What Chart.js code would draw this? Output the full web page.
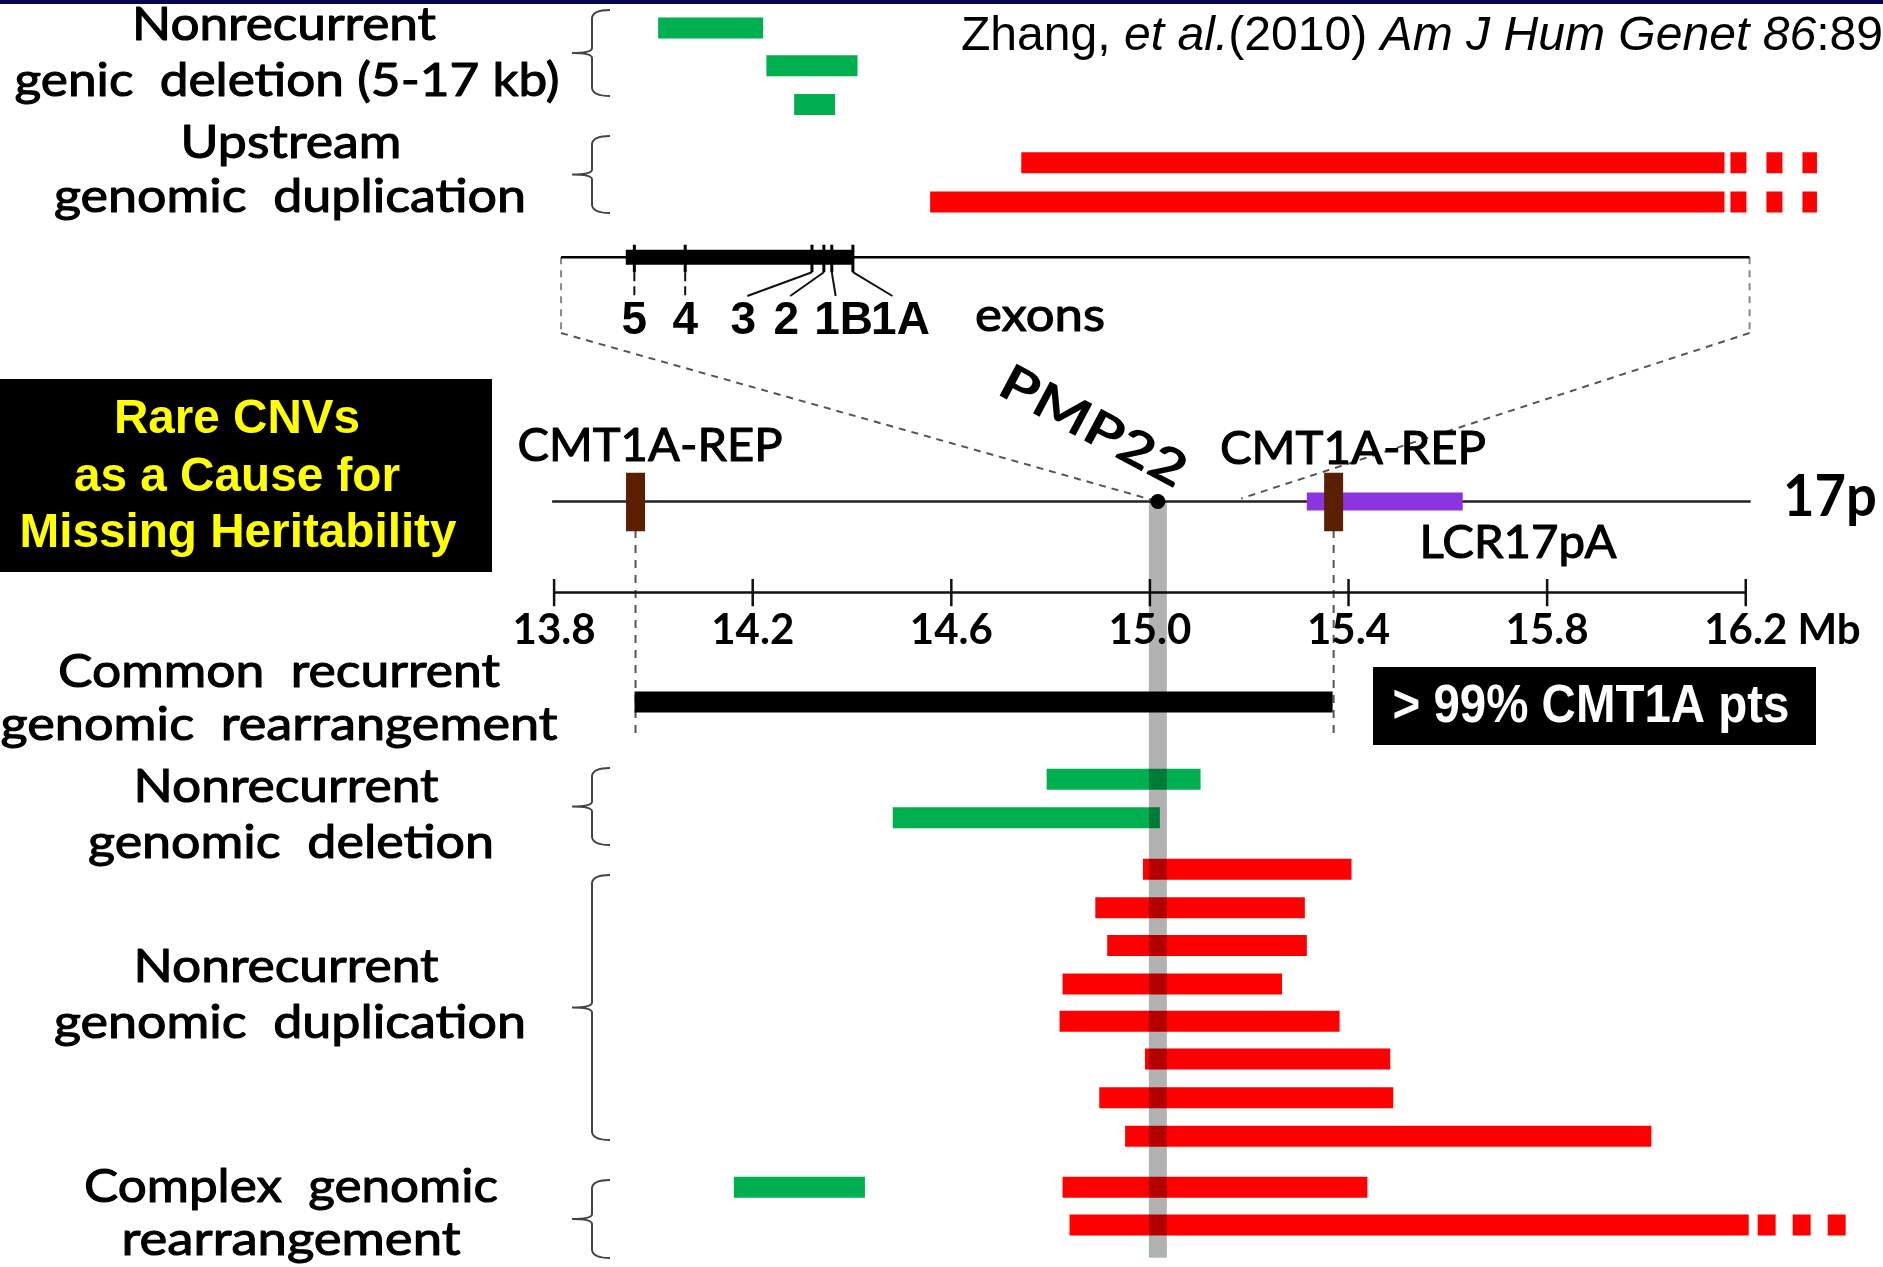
<!DOCTYPE html>
<html>
<head>
<meta charset="utf-8">
<script src="https://cdn.jsdelivr.net/npm/chart.js@4.4.1/dist/chart.umd.min.js"></script>
<style>
  html, body { margin: 0; padding: 0; background: #fff; overflow: hidden; }
  canvas { display: block; }
</style>
</head>
<body>
<canvas id="c" width="1883" height="1267"></canvas>
<script>
// ==================== DATA ====================
// Genomic axis (Mb) of 17p12
const MB_TICKS = [13.8, 14.2, 14.6, 15.0, 15.4, 15.8, 16.2];
const PMP22_MB = 15.016;
const REP_MB = [13.964, 15.370];          // CMT1A-REP proximal / distal
const LCR17PA_MB = [15.316, 15.630];
const COMMON_MB = [13.962, 15.368];       // common 1.4 Mb CMT1A duplication
const ZOOM_MB = [15.016, 15.184];         // region blown up in the upper panel

// Nonrecurrent genomic deletions (Mb)
const DEL_START = [14.792, 14.482];
const DEL_END = [15.102, 15.020];
const DEL_LANE = [20.23, 21.24];

// Nonrecurrent genomic duplications (Mb)
const DUP_START = [14.986, 14.890, 14.914, 14.824, 14.818, 14.990, 14.898, 14.950];
const DUP_END = [15.406, 15.312, 15.316, 15.266, 15.382, 15.484, 15.490, 16.010];
const DUP_LANE = [22.59, 23.60, 24.59, 25.60, 26.58, 27.57, 28.58, 29.59];

// Complex genomic rearrangements (Mb)
const CX_DEL_START = [14.162];
const CX_DEL_END = [14.426];
const CX_DEL_LANE = [30.93];
const CX_DUP_START = [14.824, 14.838];
const CX_DUP_END = [15.438, 16.206];
const CX_DUP_LANE = [30.93, 31.92];
const CX_DUP_MORE = [null, 16.412];       // dotted continuation

// Upper panel, in kb along the magnified window
const WINDOW_KB = [0, 180];
const GENE_KB = [9.8, 44.3];
const EXON_KB = [11.1, 18.8, 38.0, 39.8, 41.0, 44.2];
const EXON_NAMES = ['5', '4', '3', '2', '1B', '1A'];
const EXON_LABEL_KB = [11.1, 18.8, 27.6, 34.1, 42.8, 51.4];

const GENIC_DEL_START = [14.7, 31.1, 35.3];
const GENIC_DEL_END = [30.6, 44.9, 41.5];
const GENIC_DEL_LANE = [0.54, 1.53, 2.54];

const UP_DUP_START = [69.7, 55.9];
const UP_DUP_END = [176.2, 176.2];
const UP_DUP_LANE = [4.07, 5.10];
const UP_DUP_MORE = [190.2, 190.2];

const GROUPS = [
    ['Nonrecurrent', 'genic  deletion (5-17 kb)'],
    ['Upstream', 'genomic  duplication'],
    ['Common  recurrent', 'genomic  rearrangement'],
    ['Nonrecurrent', 'genomic  deletion'],
    ['Nonrecurrent', 'genomic  duplication'],
    ['Complex  genomic', 'rearrangement'],
];

// ==================== LAYOUT ====================
const W = 1883, H = 1267;
const LANE_PX = 38.6;
const PX_PER_MB = 500.5, MB_AT_PX = 551;  // 13.8 Mb sits at x=551
const PX_PER_KB = 6.656, KB_AT_PX = 558;  // window start sits at x=558

const GREEN = '#00b050';
const RED = '#ff0000';
const LANE = {
    gene: 6.55, chrom: 12.95, repTop: 12.23, repBot: 13.70,
    axis: 15.34, tickTop: 14.98, tickBot: 15.70, common: 18.21,
    exonTop: 6.22, exonBot: 6.94, bandEnd: 32.78,
};

function seg(xAxisID, x0, x1, y0, y1, color, width, extra) {
    return Object.assign({
        type: 'line', xAxisID, yAxisID: 'y',
        data: [{ x: x0, y: y0 }, { x: x1, y: y1 }],
        borderColor: color, borderWidth: width,
        pointRadius: 0, borderCapStyle: 'butt', fill: false, order: 2,
    }, extra || {});
}

const datasets = [];

// PMP22 column and dot
datasets.push(seg('x', PMP22_MB, PMP22_MB, LANE.chrom, LANE.bandEnd, 'rgba(0,0,0,0.3)', 18, { order: -1 }));
datasets.push({
    type: 'scatter', xAxisID: 'x', yAxisID: 'y',
    data: [{ x: PMP22_MB, y: LANE.chrom }],
    pointRadius: 7.5, pointBackgroundColor: '#000', pointBorderWidth: 0, order: -2,
});

// chromosome, LCR, REPs
REP_MB.forEach(m => {
    datasets.push(seg('x', m, m, LANE.repTop - 0.03, LANE.repBot + 0.03, '#5a1e00', 19, { order: 0 }));
    datasets.push(seg('x', m, m, LANE.repTop + 0.03, LANE.repBot - 0.03, '#a33a05', 16, { order: 0 }));
});
datasets.push(seg('x', LCR17PA_MB[0], LCR17PA_MB[1], LANE.chrom, LANE.chrom, '#8a35e0', 18, { order: 1 }));
datasets.push(seg('x', LCR17PA_MB[0] + 0.003, LCR17PA_MB[1] - 0.003, LANE.chrom, LANE.chrom, '#9f3fff', 13, { order: 1 }));
datasets.push(seg('x', 13.796, 16.21, LANE.chrom, LANE.chrom, '#222', 2.5, { order: 3 }));

// Mb axis
datasets.push(seg('x', MB_TICKS[0], MB_TICKS[MB_TICKS.length - 1], LANE.axis, LANE.axis, '#111', 2.5));
MB_TICKS.forEach(t => datasets.push(seg('x', t, t, LANE.tickTop, LANE.tickBot, '#111', 2.5)));

// gene structure
datasets.push(seg('xkb', WINDOW_KB[0], WINDOW_KB[1], LANE.gene, LANE.gene, '#000', 2.5));
datasets.push(seg('xkb', GENE_KB[0], GENE_KB[1], LANE.gene, LANE.gene, '#000', 15));
EXON_KB.forEach(e => datasets.push(seg('xkb', e, e, LANE.exonTop, LANE.exonBot, '#000', 3)));

// CNVs
GENIC_DEL_START.forEach((s, i) => datasets.push(seg('xkb', s, GENIC_DEL_END[i], GENIC_DEL_LANE[i], GENIC_DEL_LANE[i], GREEN, 21)));
UP_DUP_START.forEach((s, i) => {
    datasets.push(seg('xkb', s, UP_DUP_END[i], UP_DUP_LANE[i], UP_DUP_LANE[i], RED, 21));
    datasets.push(seg('xkb', UP_DUP_END[i] + 0.9, UP_DUP_MORE[i], UP_DUP_LANE[i], UP_DUP_LANE[i], RED, 21, { borderDash: [16, 20] }));
});
datasets.push(seg('x', COMMON_MB[0], COMMON_MB[1], LANE.common, LANE.common, '#000', 21));
DEL_START.forEach((s, i) => datasets.push(seg('x', s, DEL_END[i], DEL_LANE[i], DEL_LANE[i], GREEN, 21)));
DUP_START.forEach((s, i) => datasets.push(seg('x', s, DUP_END[i], DUP_LANE[i], DUP_LANE[i], RED, 21)));
CX_DEL_START.forEach((s, i) => datasets.push(seg('x', s, CX_DEL_END[i], CX_DEL_LANE[i], CX_DEL_LANE[i], GREEN, 21)));
CX_DUP_START.forEach((s, i) => {
    datasets.push(seg('x', s, CX_DUP_END[i], CX_DUP_LANE[i], CX_DUP_LANE[i], RED, 21));
    if (CX_DUP_MORE[i]) {
        datasets.push(seg('x', CX_DUP_END[i] + 0.018, CX_DUP_MORE[i], CX_DUP_LANE[i], CX_DUP_LANE[i], RED, 21, { borderDash: [18, 17] }));
    }
});

// ==================== TEXT / DECOR ====================
const CAL = "Lato, 'Open Sans', sans-serif";
const ARIAL = "'Liberation Sans', Arial, sans-serif";
const NARROW = "'Liberation Sans Narrow', 'Liberation Sans', Arial, sans-serif";

function txt(ctx, s, x, y, font, width, opts) {
    opts = opts || {};
    ctx.save();
    ctx.font = font;
    ctx.fillStyle = opts.color || '#000';
    ctx.textBaseline = 'middle';
    ctx.textAlign = opts.align || 'center';
    const nat = ctx.measureText(s).width;
    ctx.translate(x, y);
    if (opts.rot) ctx.rotate(opts.rot);
    ctx.scale(width ? width / nat : 1, 1);
    if (opts.stroke) {
        ctx.strokeStyle = opts.color || '#000';
        ctx.lineWidth = opts.stroke;
        ctx.lineJoin = 'round';
        ctx.strokeText(s, 0, 0);
    }
    ctx.fillText(s, 0, 0);
    ctx.restore();
}

function brace(ctx, x, y0, y1) {
    const ym = (y0 + y1) / 2;
    ctx.save();
    ctx.strokeStyle = '#444';
    ctx.lineWidth = 2;
    ctx.beginPath();
    ctx.moveTo(x + 18, y0);
    ctx.quadraticCurveTo(x + 1, y0, x, y0 + 8);
    ctx.lineTo(x, ym - 5);
    ctx.quadraticCurveTo(x, ym, x - 20, ym);
    ctx.quadraticCurveTo(x, ym, x, ym + 5);
    ctx.lineTo(x, y1 - 8);
    ctx.quadraticCurveTo(x + 1, y1, x + 18, y1);
    ctx.stroke();
    ctx.restore();
}

function dashed(ctx, pts, color, dash, width) {
    ctx.save();
    ctx.strokeStyle = color;
    ctx.lineWidth = width || 2;
    ctx.setLineDash(dash || []);
    ctx.beginPath();
    pts.forEach((p, i) => i ? ctx.lineTo(p[0], p[1]) : ctx.moveTo(p[0], p[1]));
    ctx.stroke();
    ctx.restore();
}

const diagram = {
    id: 'diagram',
    beforeDatasetsDraw(chart) {
        const { ctx, scales: { x, xkb, y } } = chart;
        ctx.fillStyle = '#06064f';
        ctx.fillRect(0, 0, W, 4);

        // magnification connectors
        const yg = y.getPixelForValue(LANE.gene), yc = y.getPixelForValue(LANE.chrom);
        const xl = xkb.getPixelForValue(WINDOW_KB[0]), xr = xkb.getPixelForValue(WINDOW_KB[1]);
        dashed(ctx, [[xl, yg], [xl, 333]], '#888', [7, 6], 2);
        dashed(ctx, [[xr, yg], [xr, 333]], '#888', [7, 6], 2);
        dashed(ctx, [[xl, 333], [x.getPixelForValue(ZOOM_MB[0]), yc]], '#555', [7, 6], 2);
        dashed(ctx, [[xr, 333], [x.getPixelForValue(ZOOM_MB[1]), yc - 3]], '#555', [7, 6], 2);

        // exon leaders
        const yb = y.getPixelForValue(LANE.exonBot);
        EXON_KB.forEach((e, i) => {
            const ex = xkb.getPixelForValue(e), lx = xkb.getPixelForValue(EXON_LABEL_KB[i]);
            const straight = Math.abs(ex - lx) < 2;
            const endX = straight ? lx : lx + (ex > lx ? 4 : -8);
            dashed(ctx, [[ex, yb], [endX, 296]], '#111', straight ? [9, 5] : [], 2);
        });

        // REP drop lines
        REP_MB.forEach(m => {
            const px = x.getPixelForValue(m);
            dashed(ctx, [[px, y.getPixelForValue(LANE.repBot)], [px, 733]], '#555', [8, 7], 2);
        });

        // braces
        [[10, 96], [136, 213], [768, 845], [875, 1140], [1180, 1258]].forEach(b => brace(ctx, 592, b[0], b[1]));
    },
    afterDatasetsDraw(chart) {
        const { ctx, scales: { x, xkb, y } } = chart;

        // citation
        ctx.save();
        const parts = [
            ['Zhang, ', 'normal'], ['et al.', 'italic'], ['(2010) ', 'normal'],
            ['Am J Hum Genet 86', 'italic'], [':89', 'normal'], ['2-903', 'normal'],
        ];
        let nat = 0;
        parts.slice(0, 5).forEach(p => { ctx.font = `${p[1]} 48px ${ARIAL}`; nat += ctx.measureText(p[0]).width; });
        ctx.translate(961, 37);
        ctx.scale(922 / nat, 1);
        ctx.fillStyle = '#000';
        ctx.textBaseline = 'middle';
        let cx = 0;
        parts.forEach(p => {
            ctx.font = `${p[1]} 48px ${ARIAL}`;
            ctx.fillText(p[0], cx, 0);
            cx += ctx.measureText(p[0]).width;
        });
        ctx.restore();

        // group labels
        const pos = [
            [284, 25, 304, 287, 81, 545],
            [291, 143, 221, 290, 197, 472],
            [279, 672, 442, 279, 725, 557],
            [286, 787, 305, 291, 843, 406],
            [286, 967, 305, 290, 1023, 472],
            [291, 1187, 414, 291, 1240, 339],
        ];
        GROUPS.forEach((g, i) => {
            const p = pos[i];
            txt(ctx, g[0], p[0], p[1], `47px ${CAL}`, p[2], { stroke: 1.1 });
            txt(ctx, g[1], p[3], p[4], `47px ${CAL}`, p[5], { stroke: 1.1 });
        });

        // title box
        ctx.fillStyle = '#000';
        ctx.fillRect(0, 379, 492, 193);
        txt(ctx, 'Rare CNVs', 237, 420, `bold 48px ${NARROW}`, 246, { color: '#ffff00' });
        txt(ctx, 'as a Cause for', 237, 478, `bold 48px ${NARROW}`, 326, { color: '#ffff00' });
        txt(ctx, 'Missing Heritability', 238, 534, `bold 48px ${NARROW}`, 437, { color: '#ffff00' });

        // > 99% box
        ctx.fillStyle = '#000';
        ctx.fillRect(1373, 667, 443, 78);
        txt(ctx, '> 99% CMT1A pts', 1591, 707, `bold 54px ${NARROW}`, 397, { color: '#fff' });

        // exon labels
        EXON_NAMES.forEach((n, i) => {
            txt(ctx, n, xkb.getPixelForValue(EXON_LABEL_KB[i]), 321, `bold 46px ${ARIAL}`, 0);
        });
        txt(ctx, 'exons', 1040, 316, `46px ${CAL}`, 130, { stroke: 1.1 });

        // chromosome labels
        txt(ctx, 'CMT1A-REP', 650, 446, `47px ${CAL}`, 265, { stroke: 1.1 });
        txt(ctx, 'CMT1A-REP', 1353, 449, `47px ${CAL}`, 266, { stroke: 1.1 });
        txt(ctx, 'LCR17pA', 1518, 543, `47px ${CAL}`, 197, { stroke: 1.1 });
        txt(ctx, '17p', 1830, 497, `bold 58px ${CAL}`, 94);
        txt(ctx, 'PMP22', 1093, 427, `bold 50px ${CAL}`, 204, { rot: 28 * Math.PI / 180 });

        // axis labels
        MB_TICKS.forEach((t, i) => {
            const px = x.getPixelForValue(t);
            txt(ctx, t.toFixed(1), px, 630, `bold 42px ${CAL}`, 0);
            if (i === MB_TICKS.length - 1) {
                ctx.save();
                ctx.font = `bold 42px ${CAL}`;
                const half = ctx.measureText(t.toFixed(1)).width / 2;
                ctx.restore();
                txt(ctx, ' Mb', px + half, 630, `bold 42px ${CAL}`, 0, { align: 'left' });
            }
        });
    },
};

new Chart(document.getElementById('c'), {
    type: 'line',
    data: { datasets },
    options: {
        responsive: false,
        animation: false,
        devicePixelRatio: 1,
        events: [],
        layout: { padding: 0 },
        plugins: { legend: { display: false }, tooltip: { enabled: false } },
        scales: {
            x: { type: 'linear', display: false, min: MB_TICKS[0] - MB_AT_PX / PX_PER_MB, max: MB_TICKS[0] + (W - MB_AT_PX) / PX_PER_MB },
            xkb: { type: 'linear', axis: 'x', display: false, min: -KB_AT_PX / PX_PER_KB, max: (W - KB_AT_PX) / PX_PER_KB },
            y: { type: 'linear', display: false, reverse: true, min: 0, max: H / LANE_PX },
        },
    },
    plugins: [diagram],
});
</script>
</body>
</html>
